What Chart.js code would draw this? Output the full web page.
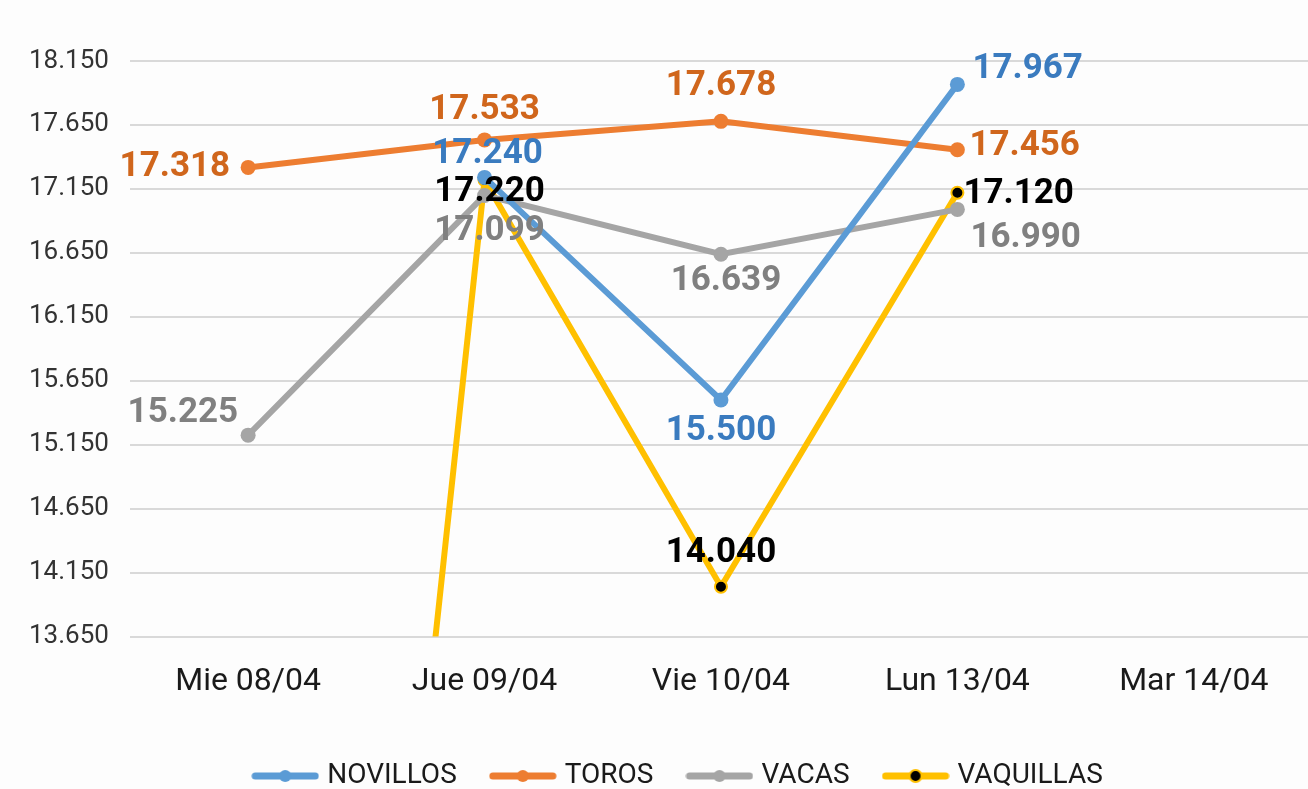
<!DOCTYPE html>
<html>
<head>
<meta charset="utf-8">
<script src="https://cdn.jsdelivr.net/npm/chart.js@4"></script>
<style>
  html, body { margin: 0; padding: 0; background: #fdfdfd; overflow: hidden; }
  #wrap { width: 1320px; height: 800px; }
</style>
</head>
<body>
<div id="wrap"><canvas id="myChart" width="1320" height="800"></canvas></div>
<script>
var dias = ["Mie 08/04", "Jue 09/04", "Vie 10/04", "Lun 13/04", "Mar 14/04"];
var novillos = [null, 17240, 15500, 17967, null];
var toros = [17318, 17533, 17678, 17456, null];
var vacas = [15225, 17099, 16639, 16990, null];
var vaquillas = [0, 17220, 14040, 17120, null];
var yMin = 13650, yMax = 18150, yStep = 500;

// where each value label sits relative to its point: [dx, dy, align]
var posNovillos = [null, [3, -23, "center"], [0, 31, "center"], [15, -15, "left"], null];
var posToros = [[-18, 0, "right"], [0, -30, "center"], [0, -35, "center"], [12, -4, "left"], null];
var posVacas = [[-10, -22, "right"], [5, 36, "center"], [5, 27, "center"], [13, 29, "left"], null];
var posVaquillas = [null, [5, 12, "center"], [0, -33, "center"], [6, 2, "left"], null];

function fmt(v) {
  return String(Math.round(v)).replace(/\B(?=(\d{3})+(?!\d))/g, ".");
}

function legendIcon(line, dot, border) {
  var c = document.createElement("canvas");
  c.width = 68; c.height = 16;
  var g = c.getContext("2d");
  g.strokeStyle = line; g.lineWidth = 7; g.lineCap = "round";
  g.beginPath(); g.moveTo(4, 8); g.lineTo(64, 8); g.stroke();
  g.beginPath(); g.arc(34, 8, 6, 0, Math.PI * 2);
  g.fillStyle = dot; g.fill();
  if (border) { g.lineWidth = 2; g.strokeStyle = border; g.stroke(); }
  return c;
}

var valueLabels = {
  id: "valueLabels",
  afterLayout: function (chart) {
    // legend sits a bit right of canvas centre in the original
    chart.legend.left += 16;
    chart.legend.right += 16;
  },
  afterDatasetsDraw: function (chart) {
    var ctx = chart.ctx;
    ctx.save();
    ctx.font = "bold 35px Roboto";
    ctx.textBaseline = "middle";
    chart.data.datasets.forEach(function (ds, i) {
      var meta = chart.getDatasetMeta(i);
      meta.data.forEach(function (pt, j) {
        var v = ds.data[j];
        var p = ds.labelPos[j];
        if (v === null || !p) return;
        ctx.fillStyle = ds.labelColor;
        ctx.textAlign = p[2];
        ctx.fillText(fmt(v), pt.x + p[0], pt.y + p[1]);
      });
    });
    ctx.restore();
  }
};

var c = new Chart("myChart", {
  type: "line",
  data: {
    labels: dias,
    datasets: [
      { label: "NOVILLOS", data: novillos, borderColor: "#5b9bd5", backgroundColor: "#5b9bd5",
        labelColor: "#3a7bbf", labelPos: posNovillos, icon: legendIcon("#5b9bd5", "#5b9bd5") },
      { label: "TOROS", data: toros, borderColor: "#ed7d31", backgroundColor: "#ed7d31",
        labelColor: "#d0661c", labelPos: posToros, icon: legendIcon("#ed7d31", "#ed7d31") },
      { label: "VACAS", data: vacas, borderColor: "#a5a5a5", backgroundColor: "#a5a5a5",
        labelColor: "#808080", labelPos: posVacas, icon: legendIcon("#a5a5a5", "#a5a5a5") },
      { label: "VAQUILLAS", data: vaquillas, borderColor: "#ffc000", backgroundColor: "#000000",
        pointBorderColor: "#ffc000", pointBorderWidth: 2, pointRadius: 6,
        labelColor: "#000000", labelPos: posVaquillas, icon: legendIcon("#ffc000", "#000000", "#ffc000") }
    ]
  },
  options: {
    responsive: false,
    animation: false,
    layout: { padding: { left: 8, right: 0, top: 61, bottom: 0 } },
    elements: {
      line: { borderWidth: 6, tension: 0 },
      point: { radius: 7.5, borderWidth: 0 }
    },
    scales: {
      x: {
        offset: true,
        afterFit: function (s) { s.height += 5; },
        grid: { display: false, offset: true },
        border: { display: false },
        ticks: { color: "#1a1a1a", font: { family: "Roboto", size: 32 }, padding: 18, maxRotation: 0 }
      },
      y: {
        min: yMin, max: yMax,
        afterBuildTicks: function (s) {
          var t = [];
          for (var v = yMin; v <= yMax; v += yStep) t.push({ value: v });
          s.ticks = t;
        },
        grid: { color: "#d9d9d9", lineWidth: 2, drawTicks: false },
        border: { display: false },
        ticks: { color: "#333333", font: { family: "Roboto", size: 26 }, padding: 21,
          callback: function (v) { return fmt(v); } }
      }
    },
    plugins: {
      tooltip: { enabled: false },
      legend: {
        position: "bottom",
        labels: {
          usePointStyle: true,
          pointStyleWidth: 56,
          padding: 38,
          color: "#1a1a1a",
          font: { family: "Roboto", size: 28 },
          generateLabels: function (chart) {
            return chart.data.datasets.map(function (ds, i) {
              return { text: ds.label, pointStyle: ds.icon, datasetIndex: i,
                fillStyle: ds.borderColor, strokeStyle: ds.borderColor, lineWidth: 0, fontColor: "#1a1a1a" };
            });
          }
        }
      }
    }
  },
  plugins: [valueLabels]
});
</script>
</body>
</html>
